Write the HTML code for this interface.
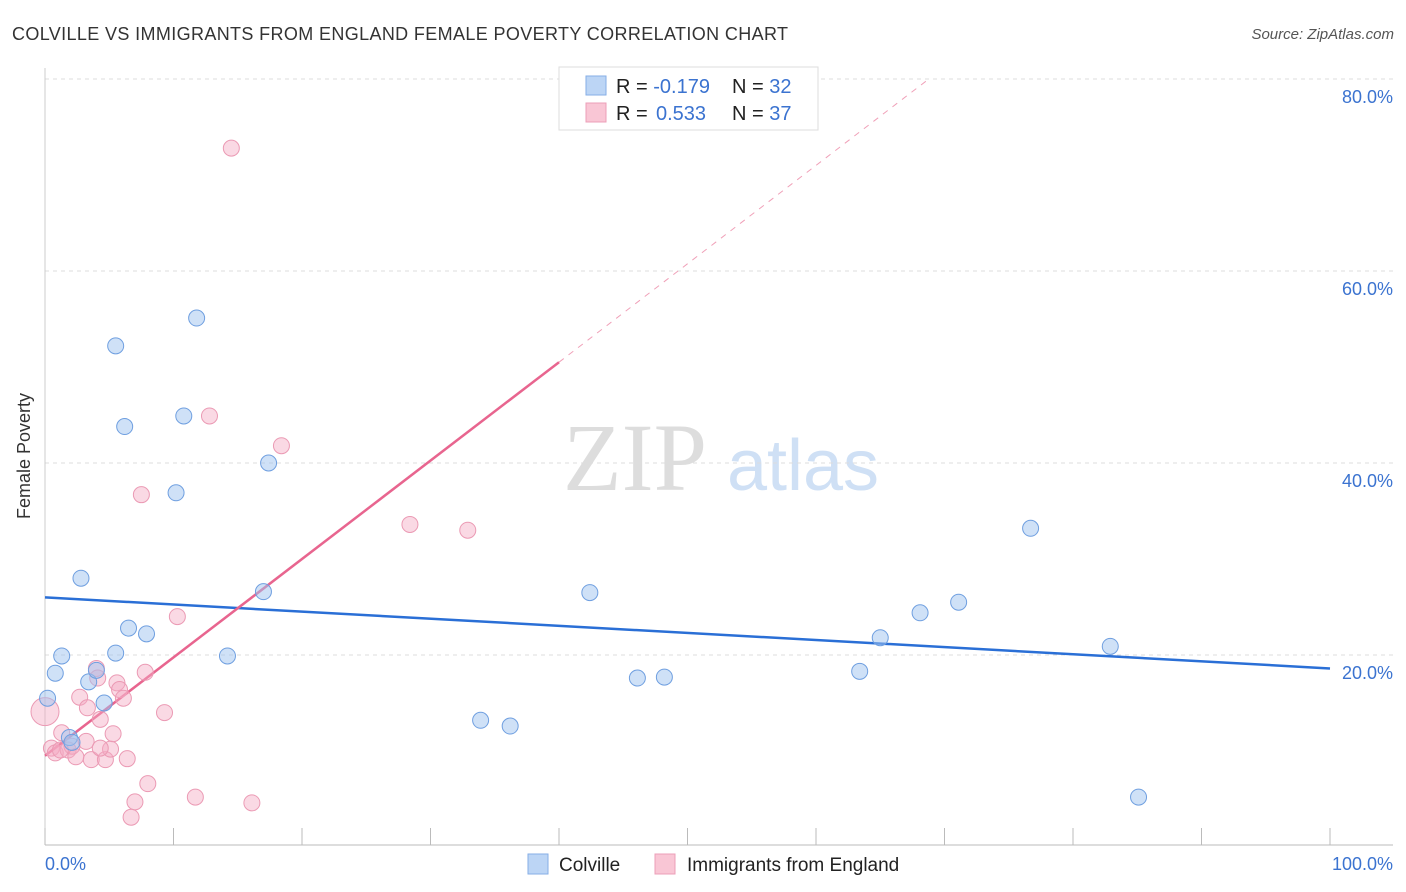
<!DOCTYPE html>
<html><head><meta charset="utf-8"><style>
body{margin:0;background:#fff;font-family:"Liberation Sans",sans-serif}
svg{display:block}
</style></head><body>
<svg id="c" width="1406" height="892" xmlns="http://www.w3.org/2000/svg">
<text x="12" y="40" font-size="18" fill="#333" textLength="776" lengthAdjust="spacing">COLVILLE VS IMMIGRANTS FROM ENGLAND FEMALE POVERTY CORRELATION CHART</text>
<text x="1394" y="39" font-size="15" fill="#555" font-style="italic" text-anchor="end">Source: ZipAtlas.com</text>
<text x="30" y="456" font-size="18" fill="#333" text-anchor="middle" transform="rotate(-90 30 456)">Female Poverty</text>
<g>
<text x="635" y="490" font-size="96" fill="#ddd" font-family="Liberation Serif,serif" text-anchor="middle">ZIP</text>
<text x="803" y="490" font-size="72" fill="#cfe0f5" text-anchor="middle">atlas</text>
</g>
<g id="grid"></g><g id="lines"></g><g id="pts"></g>
<g>
<rect x="559" y="67" width="259" height="63" fill="#fff" stroke="#ddd"/>
<rect x="586" y="76" width="20" height="19" fill="#bcd5f5" stroke="#86aee6"/>
<rect x="586" y="103" width="20" height="19" fill="#f9c6d5" stroke="#ec9fb8"/>
<text x="616" y="93" font-size="20" fill="#222">R = <tspan fill="#3b73d0">-0.179</tspan><tspan x="732">N = </tspan><tspan fill="#3b73d0">32</tspan></text>
<text x="616" y="120" font-size="20" fill="#222">R = <tspan fill="#3b73d0" x="656">0.533</tspan><tspan x="732">N = </tspan><tspan fill="#3b73d0">37</tspan></text>
</g>
<g>
<rect x="528" y="854" width="20" height="20" fill="#bcd5f5" stroke="#86aee6"/>
<text x="559" y="871" font-size="19" fill="#222">Colville</text>
<rect x="655" y="854" width="20" height="20" fill="#f9c6d5" stroke="#ec9fb8"/>
<text x="687" y="871" font-size="19" fill="#222">Immigrants from England</text>
</g>
<text x="45" y="870" font-size="18" fill="#3b73d0">0.0%</text>
<text x="1393" y="870" font-size="18" fill="#3b73d0" text-anchor="end">100.0%</text>
</svg>
<script>
const yTicks=[20,40,60,80];
const blueX=[0.2,0.8,1.3,2.8,3.4,4.0,4.6,1.9,5.5,5.5,6.2,6.5,7.9,10.2,10.8,11.8,14.2,17.0,17.4,33.9,36.2,42.4,46.1,48.2,63.4,65.0,68.1,71.1,76.7,82.9,85.1,2.1];
const blueY=[15.5,18.1,19.9,28.0,17.2,18.4,15.0,11.4,52.2,20.2,43.8,22.8,22.2,36.9,44.9,55.1,19.9,26.6,40.0,13.2,12.6,26.5,17.6,17.7,18.3,21.8,24.4,25.5,33.2,20.9,5.2,10.9];
const pinkX=[0,0.5,0.8,1.3,1.8,2.1,2.4,2.7,3.2,3.3,3.6,4.0,4.1,4.3,4.7,5.1,5.3,5.6,5.8,6.1,6.4,7.5,7.8,7.0,6.7,8.0,9.3,10.3,11.7,12.8,14.5,16.1,18.4,28.4,32.9,1.2,4.3];
const pinkY=[14.1,10.3,9.8,11.9,10.1,10.5,9.4,15.6,11.0,14.5,9.1,18.6,17.6,13.3,9.1,10.2,11.8,17.1,16.4,15.5,9.2,36.7,18.2,4.7,3.1,6.6,14.0,24.0,5.2,44.9,72.8,4.6,41.8,33.6,33.0,10.1,10.3];
const blueTrend=[26.0,18.6];
const pinkTrend=[9.5,1.025];
const NS='http://www.w3.org/2000/svg';
const X=v=>45+v*12.85, Y=v=>847-v*9.6;
function mk(p,t,a){const e=document.createElementNS(NS,t);for(const k in a)e.setAttribute(k,a[k]);p.appendChild(e);return e;}
const g=document.getElementById('grid');
for(const t of yTicks){
 const l=mk(g,'line',{x1:45,x2:1393,y1:Y(t),y2:Y(t),stroke:'#ddd','stroke-dasharray':'4,4'});
 
 
 const tx=mk(g,'text',{x:1393,y:Y(t)+24,'font-size':18,fill:'#3b73d0','text-anchor':'end'});
 tx.textContent=t.toFixed(1)+'%';
 
 
}
mk(g,'line',{x1:45,x2:45,y1:68,y2:845,stroke:'#ccc'});
mk(g,'line',{x1:45,x2:1393,y1:845,y2:845,stroke:'#bbb'});
for(let i=0;i<=10;i++){const t=mk(g,'line',{x1:X(i*10),x2:X(i*10),y1:828,y2:845,stroke:'#bbb'});
 
 }
const L=document.getElementById('lines');
const bl=mk(L,'line',{x1:X(0),y1:Y(blueTrend[0]),x2:X(100),y2:Y(blueTrend[1]),stroke:'#2a6fd6','stroke-width':2.5});


const pe=(80-pinkTrend[0])/pinkTrend[1];
const pd=mk(L,'line',{x1:X(40),y1:Y(pinkTrend[0]+40*pinkTrend[1]),x2:X(pe),y2:Y(80),stroke:'#f0a0b8','stroke-width':1,'stroke-dasharray':'6,6'});


const pl=mk(L,'line',{x1:X(0),y1:Y(pinkTrend[0]),x2:X(40),y2:Y(pinkTrend[0]+40*pinkTrend[1]),stroke:'#e8658f','stroke-width':2.5});


const P=document.getElementById('pts');
pinkX.forEach((x,i)=>{const c=mk(P,'circle',{cx:X(x),cy:Y(pinkY[i]),r:i==0?14:8,fill:'rgba(245,170,195,0.45)',stroke:'#eb9ab4','stroke-width':1});
 
 });
blueX.forEach((x,i)=>{const c=mk(P,'circle',{cx:X(x),cy:Y(blueY[i]),r:8,fill:'rgba(160,195,240,0.5)',stroke:'#6f9fe0','stroke-width':1});
 
 });
</script>
</body></html>
